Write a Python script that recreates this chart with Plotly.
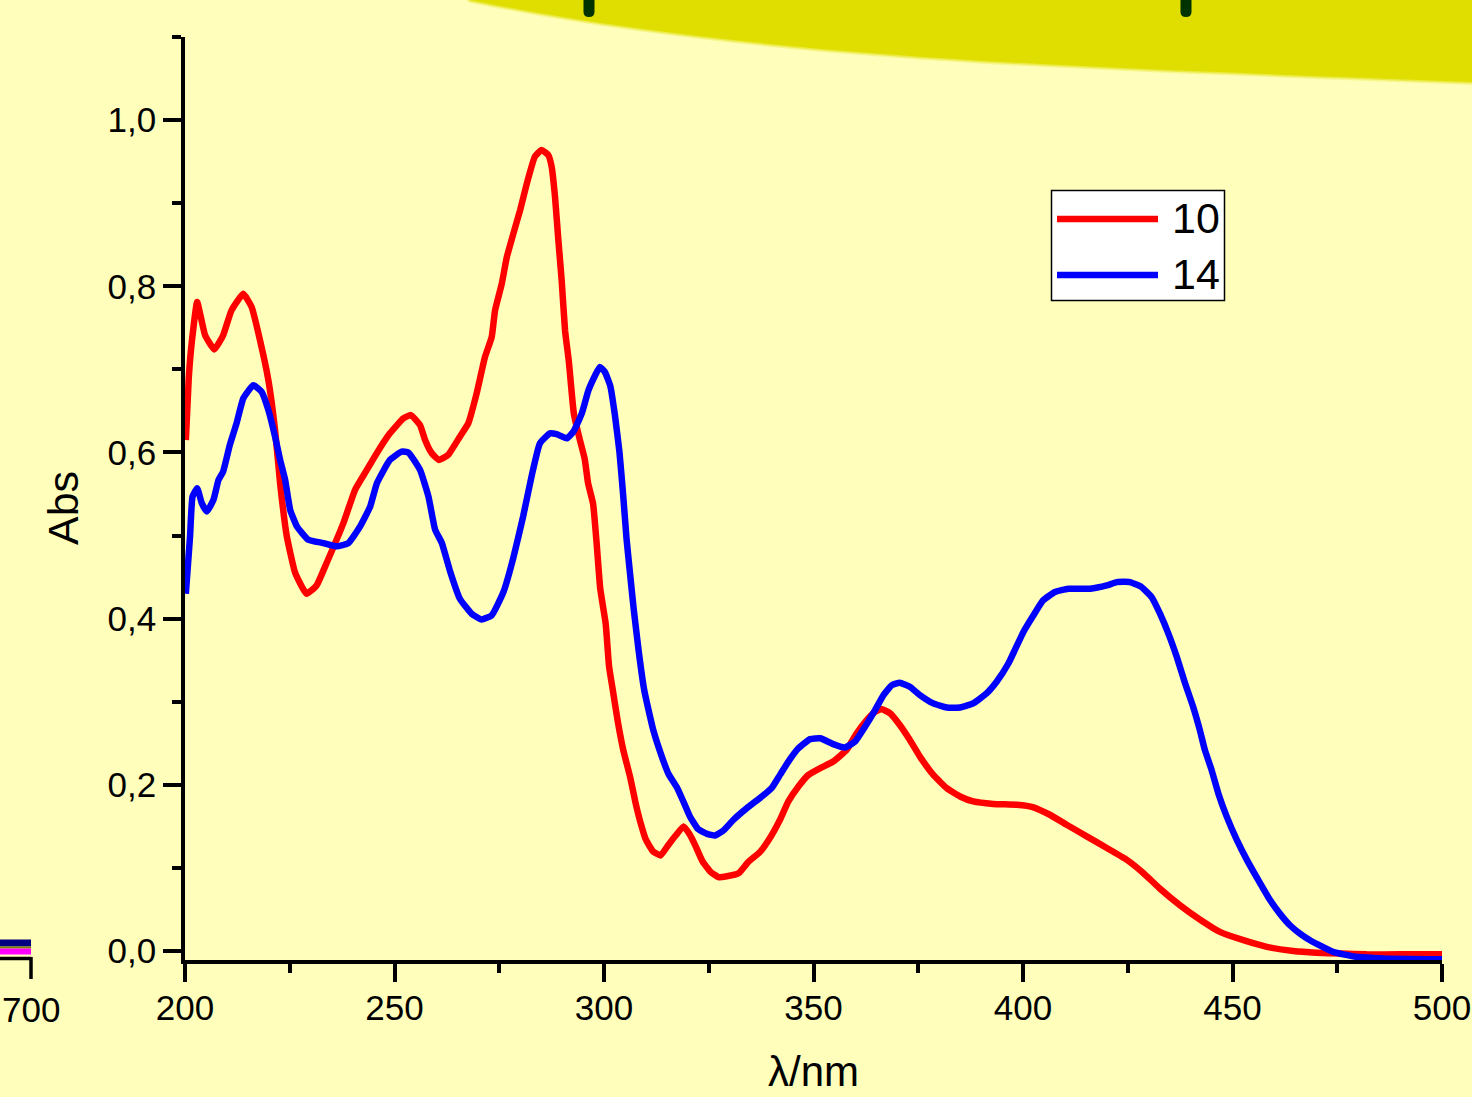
import plotly.graph_objects as go

# Absorption spectra of compounds 10 and 14
wl_10 = [200.2, 200.9, 201.6, 202.9, 204.8, 207.0, 209.1, 211.1, 213.9, 215.9,
         217.9, 219.9, 221.5, 222.7, 224.3, 226.3, 229.0, 231.4, 233.8, 237.8,
         240.6, 243.4, 246.5, 248.9, 252.1, 253.9, 256.1, 257.3, 258.9, 260.6,
         262.8, 265.6, 267.6, 269.6, 271.6, 273.2, 274.0, 275.6, 276.8, 278.4,
         280.0, 281.6, 283.5, 285.1, 286.7, 287.5, 288.3, 289.1, 289.9, 290.7,
         291.6, 292.8, 294.1, 295.4, 296.2, 297.4, 298.3, 299.1, 300.4, 301.2,
         302.1, 303.3, 304.6, 306.3, 307.5, 308.8, 310.0, 311.7, 313.5, 315.4,
         317.1, 319.0, 320.5, 321.7, 323.5, 325.5, 327.3, 329.3, 332.2, 334.4,
         337.2, 339.6, 342.0, 344.0, 346.4, 348.8, 351.6, 354.7, 357.9, 360.3,
         362.7, 364.7, 366.3, 368.3, 370.6, 373.0, 375.4, 378.6, 381.8, 385.0,
         388.1, 392.9, 398.5, 402.5, 406.4, 410.4, 415.2, 420.0, 424.7, 428.7,
         432.7, 437.5, 442.2, 447.0, 452.6, 458.2, 464.5, 470.0, 476.0, 482.0,
         490.0, 500.0]
abs_10 = [0.615, 0.690, 0.732, 0.781, 0.741, 0.724, 0.741, 0.771, 0.791, 0.775,
          0.735, 0.687, 0.627, 0.563, 0.499, 0.455, 0.430, 0.440, 0.467, 0.515,
          0.555, 0.579, 0.605, 0.623, 0.641, 0.645, 0.633, 0.615, 0.599, 0.591,
          0.597, 0.619, 0.635, 0.671, 0.715, 0.739, 0.771, 0.803, 0.835, 0.864,
          0.892, 0.924, 0.956, 0.964, 0.958, 0.944, 0.908, 0.856, 0.807, 0.747,
          0.710, 0.647, 0.618, 0.592, 0.563, 0.538, 0.487, 0.436, 0.394, 0.343,
          0.314, 0.276, 0.242, 0.208, 0.179, 0.153, 0.134, 0.120, 0.115, 0.128,
          0.139, 0.150, 0.140, 0.128, 0.108, 0.095, 0.089, 0.090, 0.094, 0.107,
          0.119, 0.136, 0.158, 0.180, 0.198, 0.212, 0.220, 0.228, 0.242, 0.262,
          0.278, 0.288, 0.291, 0.286, 0.272, 0.254, 0.234, 0.212, 0.196, 0.186,
          0.180, 0.177, 0.176, 0.173, 0.164, 0.152, 0.138, 0.124, 0.110, 0.094,
          0.075, 0.055, 0.038, 0.023, 0.013, 0.005, 0.000, -0.002, -0.003, -0.004,
          -0.004, -0.004]

wl_14 = [200.2, 201.2, 201.8, 202.9, 204.0, 205.2, 206.8, 208.0, 209.1, 210.7,
         212.3, 213.9, 216.3, 218.3, 219.9, 221.5, 222.7, 223.9, 225.1, 226.7,
         229.4, 233.0, 236.2, 239.0, 241.8, 244.2, 245.8, 248.9, 251.7, 253.3,
         256.1, 258.1, 259.7, 261.3, 263.2, 265.6, 268.4, 270.8, 273.2, 276.0,
         278.4, 280.7, 282.7, 284.7, 287.1, 288.7, 291.1, 292.7, 294.7, 296.3,
         297.9, 299.0, 300.2, 301.5, 302.6, 303.7, 304.6, 305.4, 306.3, 307.1,
         308.3, 309.6, 311.7, 313.8, 315.4, 317.5, 319.2, 320.5, 322.4, 324.6,
         326.5, 328.5, 330.9, 334.1, 337.2, 340.0, 342.0, 344.0, 346.4, 349.2,
         351.6, 354.7, 357.5, 359.9, 362.3, 364.7, 366.7, 368.7, 370.6, 373.0,
         375.4, 378.6, 381.8, 385.0, 388.1, 391.3, 393.7, 396.5, 400.1, 402.5,
         404.8, 407.6, 410.8, 416.0, 420.0, 422.4, 425.5, 428.3, 430.7, 432.7,
         434.7, 436.7, 438.7, 440.6, 442.2, 443.4, 445.0, 446.6, 448.6, 451.0,
         453.4, 456.2, 459.0, 461.3, 463.7, 466.1, 468.5, 474.0, 479.6, 486.0,
         500.0]
abs_14 = [0.430, 0.499, 0.547, 0.557, 0.539, 0.529, 0.543, 0.567, 0.577, 0.609,
          0.635, 0.665, 0.681, 0.673, 0.651, 0.619, 0.591, 0.567, 0.531, 0.511,
          0.495, 0.491, 0.487, 0.491, 0.511, 0.535, 0.563, 0.591, 0.601, 0.600,
          0.579, 0.547, 0.507, 0.491, 0.458, 0.424, 0.406, 0.399, 0.404, 0.432,
          0.474, 0.523, 0.571, 0.611, 0.623, 0.622, 0.617, 0.625, 0.647, 0.675,
          0.693, 0.703, 0.697, 0.680, 0.645, 0.600, 0.547, 0.495, 0.450, 0.411,
          0.360, 0.314, 0.267, 0.234, 0.213, 0.196, 0.177, 0.162, 0.147, 0.141,
          0.139, 0.145, 0.158, 0.172, 0.184, 0.196, 0.212, 0.228, 0.244, 0.255,
          0.256, 0.249, 0.245, 0.252, 0.270, 0.290, 0.308, 0.320, 0.323, 0.318,
          0.308, 0.298, 0.293, 0.293, 0.298, 0.310, 0.324, 0.346, 0.384, 0.404,
          0.422, 0.432, 0.436, 0.436, 0.440, 0.444, 0.444, 0.438, 0.426, 0.406,
          0.382, 0.354, 0.322, 0.294, 0.266, 0.242, 0.218, 0.190, 0.162, 0.134,
          0.110, 0.085, 0.061, 0.045, 0.031, 0.021, 0.013, -0.001, -0.007, -0.009,
          -0.010]

series_names = ["10", "14"]
series_colors = ["#FF0000", "#0000FF"]
x_ticks = [200, 250, 300, 350, 400, 450, 500]
y_ticks = [0.0, 0.2, 0.4, 0.6, 0.8, 1.0]

W, H = 1472, 1097
L, R, T, B = 185, 1442, 37, 960  # plot area edges in pixels
BG = "#FFFFBB"
FONT = "Arial, Liberation Sans, sans-serif"


def fx(p):
    return (p - L) / (R - L)


def fy(p):
    return (B - p) / (B - T)


def pt(p):
    return f"{fx(p[0]):.5f},{fy(p[1]):.5f}"


fig = go.Figure()
for wl, ab, name, col in zip([wl_10, wl_14], [abs_10, abs_14], series_names, series_colors):
    fig.add_trace(go.Scatter(
        x=wl, y=ab, name=name, mode="lines",
        line=dict(color=col, width=6.5, shape="spline", smoothing=0.4),
        showlegend=False,
    ))

shapes = []

# soft-edged yellow band across the top
for dy, op in [(3, 0.25), (1.5, 0.5), (0, 1.0)]:
    p0, c1, c2, p3 = (470, 0 + dy), (770, 60 + dy), (1072, 66 + dy), (1472, 82 + dy)
    path = (f"M {pt(p0)} C {pt(c1)} {pt(c2)} {pt(p3)} "
            f"L {pt((1490, 82 + dy))} L {pt((1490, -20))} L {pt((440, -20))} Z")
    shapes.append(dict(type="path", xref="paper", yref="paper", path=path,
                       fillcolor="#E0DE00", opacity=op, line=dict(width=0), layer="below"))

# dark pins hanging from the band
for cx in (589, 1186):
    x0, x1, yb = cx - 5.5, cx + 5.5, 17
    path = (f"M {pt((x0, -5))} L {pt((x0, yb - 5))} Q {pt((x0, yb))} {pt((cx, yb))} "
            f"Q {pt((x1, yb))} {pt((x1, yb - 5))} L {pt((x1, -5))} Z")
    shapes.append(dict(type="path", xref="paper", yref="paper", path=path,
                       fillcolor="#003300", line=dict(width=0)))

# edge of a neighbouring panel at the lower left
for y0, col, w in [(943, "#000080", 7), (947.5, "#808000", 2), (951.5, "#FF00FF", 6)]:
    shapes.append(dict(type="line", xref="paper", yref="paper",
                       x0=fx(-5), x1=fx(31), y0=fy(y0), y1=fy(y0),
                       line=dict(color=col, width=w)))
shapes.append(dict(type="line", xref="paper", yref="paper",
                   x0=fx(-5), x1=fx(31), y0=fy(958.5), y1=fy(958.5),
                   line=dict(color="black", width=3.5)))
shapes.append(dict(type="line", xref="paper", yref="paper",
                   x0=fx(31), x1=fx(31), y0=fy(957), y1=fy(979),
                   line=dict(color="black", width=3.5)))

# legend box
shapes.append(dict(type="rect", xref="paper", yref="paper",
                   x0=fx(1051.5), x1=fx(1224.5), y0=fy(190.5), y1=fy(300.5),
                   fillcolor="white", line=dict(color="black", width=1.5)))
for yl, col in zip([219, 275], series_colors):
    shapes.append(dict(type="line", xref="paper", yref="paper",
                       x0=fx(1057), x1=fx(1158), y0=fy(yl), y1=fy(yl),
                       line=dict(color=col, width=6.5)))

annotations = []
for yl, name in zip([218, 274], series_names):
    annotations.append(dict(text=name, xref="paper", yref="paper", x=fx(1170), y=fy(yl),
                            xanchor="left", yanchor="middle", showarrow=False,
                            font=dict(family=FONT, size=43, color="black")))
annotations.append(dict(text="Abs", xref="paper", yref="paper", x=fx(63), y=fy(508),
                        xanchor="center", yanchor="middle", textangle=-90, showarrow=False,
                        font=dict(family=FONT, size=43, color="black")))
annotations.append(dict(text="λ/nm", xref="paper", yref="paper", x=fx(813), y=fy(1071),
                        xanchor="center", yanchor="middle", showarrow=False,
                        font=dict(family=FONT, size=42, color="black")))
annotations.append(dict(text="700", xref="paper", yref="paper", x=fx(31), y=fy(1010),
                        xanchor="center", yanchor="middle", showarrow=False,
                        font=dict(family=FONT, size=35, color="black")))

fig.update_layout(
    width=W, height=H,
    margin=dict(l=L, r=W - R, t=T, b=H - B, autoexpand=False),
    paper_bgcolor=BG, plot_bgcolor=BG,
    separators=",.",
    showlegend=False,
    shapes=shapes, annotations=annotations,
    font=dict(family=FONT, color="black"),
)
fig.update_xaxes(
    range=[200, 500], tickvals=x_ticks, ticktext=[str(v) for v in x_ticks],
    showline=True, linecolor="black", linewidth=3.5, mirror=False,
    ticks="outside", ticklen=18, tickwidth=3.5, tickcolor="black",
    minor=dict(dtick=25, tick0=200, ticks="outside", ticklen=9, tickwidth=3.5, tickcolor="black"),
    tickfont=dict(family=FONT, size=35, color="black"),
    showgrid=False, zeroline=False, ticklabelstandoff=-4,
)
fig.update_yaxes(
    range=[-0.0108, 1.1], tickvals=y_ticks, tickformat=".1f",
    showline=True, linecolor="black", linewidth=3.5, mirror=False,
    ticks="outside", ticklen=18, tickwidth=3.5, tickcolor="black",
    minor=dict(dtick=0.1, tick0=0, ticks="outside", ticklen=9, tickwidth=3.5, tickcolor="black"),
    tickfont=dict(family=FONT, size=35, color="black"),
    showgrid=False, zeroline=False, ticklabelstandoff=0,
)

fig.write_html("out.html")
